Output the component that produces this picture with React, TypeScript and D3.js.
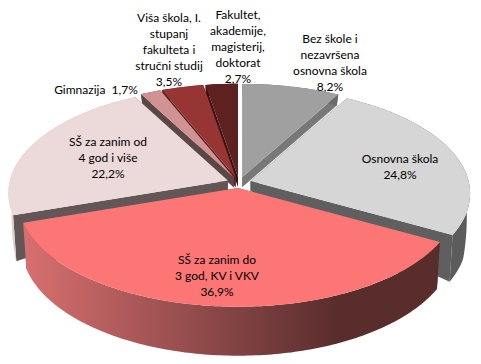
import React from "react";
import * as d3 from "d3";

const shares = [8.2, 24.8, 36.9, 22.2, 1.7, 3.5, 2.7];
const labelLines = [
  ["Bez škole i", "nezavršena", "osnovna škola", "8,2%"],
  ["Osnovna škola", "24,8%"],
  ["SŠ za zanim do", "3 god, KV i VKV", "36,9%"],
  ["SŠ za zanim od", "4 god i više", "22,2%"],
  ["Gimnazija  1,7%"],
  ["Viša škola, I.", "stupanj", "fakulteta i", "stručni studij", "3,5%"],
  ["Fakultet,", "akademije,", "magisterij,", "doktorat", "2,7%"],
];

// styles and layout, per slice
const topColors = ["#a0a0a0", "#d6d6d6", "#fd7676", "#ecd9d9", "#d09292", "#963534", "#5f2020"];
const cutColors = ["#787878", "#5f5f5f", "#5f5f5f", "#625656", "#5b4646", "#5c1f1f", "#3a1010"];
const wallStops = [
  ["#6a6a6a", "#6a6a6a"],
  ["#6c6c6c", "#5c5c5c"],
  ["#d87070", "#5a2d2d"],
  ["#ddd2d2", "#b8a8a8"],
  ["#5b4646", "#5b4646"],
  ["#5c1f1f", "#5c1f1f"],
  ["#3a1010", "#3a1010"],
];
const labelPos: [number, number][] = [
  [330, 38], [400, 158], [217, 259], [108, 141], [96, 89], [169, 17], [238, 14],
];
const drawOrder = [0, 6, 5, 4, 3, 1, 2];

const CX = 239, CY = 182.5, EX = 12, EY = 5.5;
const RX = 218, RY = 106, PERSP = 0.12;
const depth = d3.scaleLinear().domain([85, 182, 213, 305]).range([11, 10, 46, 49]).clamp(true);

const arcs = d3.pie<number>().sort(null).value((d) => d).startAngle(0).endAngle(2 * Math.PI)(shares);

export default function App() {
  const line = d3.line<[number, number]>();
  const slices = arcs.map((arc, i) => {
    const mid = (arc.startAngle + arc.endAngle) / 2;
    const ax = CX + EX * Math.sin(mid);
    const ay = CY - EY * Math.cos(mid);
    const proj = (a: number): [number, number] => {
      const s = 1 - PERSP * Math.cos(a);
      return [ax + RX * s * Math.sin(a), ay - RY * s * Math.cos(a)];
    };
    const low = (p: [number, number]): [number, number] => [
      ax + (p[0] - ax) * 0.985,
      p[1] + depth(p[1]),
    ];
    const n = Math.max(4, Math.ceil((arc.endAngle - arc.startAngle) * 60));
    const rim = d3.range(n + 1).map((k) =>
      proj(arc.startAngle + ((arc.endAngle - arc.startAngle) * k) / n)
    );
    const apex: [number, number] = [ax, ay];
    const apexLow = low(apex);
    const top = line([apex, ...rim])! + "Z";
    const wall = line([...rim, ...rim.slice().reverse().map(low)])! + "Z";
    const cutA = line([apex, rim[0], low(rim[0]), apexLow])! + "Z";
    const cutB = line([apex, rim[n], low(rim[n]), apexLow])! + "Z";
    const xs = rim.map((p) => p[0]);
    return { i, top, wall, cutA, cutB, x0: d3.min(xs)!, x1: d3.max(xs)! };
  });

  return (
    <svg
      width={481}
      height={364}
      style={{ position: "fixed", left: 0, top: 0, background: "#fff" }}
      fontFamily="Lato, Carlito, sans-serif"
      fontSize={12}
    >
      <defs>
        {slices.map((s) => (
          <linearGradient
            key={s.i}
            id={`wall${s.i}`}
            gradientUnits="userSpaceOnUse"
            x1={s.x0}
            x2={s.x1}
            y1={0}
            y2={0}
          >
            <stop offset="0%" stopColor={wallStops[s.i][0]} />
            <stop offset="75%" stopColor={wallStops[s.i][1]} />
            <stop offset="100%" stopColor={wallStops[s.i][1]} />
          </linearGradient>
        ))}
      </defs>
      {drawOrder.map((i) => {
        const s = slices[i];
        return (
          <g key={i}>
            <path d={s.cutA} fill={cutColors[i]} />
            <path d={s.cutB} fill={cutColors[i]} />
            <path d={s.wall} fill={`url(#wall${i})`} />
            <path d={s.top} fill={topColors[i]} />
          </g>
        );
      })}
      {labelLines.map((lines, i) => (
        <text key={i} textAnchor="middle" fill="#000">
          {lines.map((t, k) => (
            <tspan
              key={k}
              x={labelPos[i][0]}
              y={labelPos[i][1] + k * 16.2}
              dominantBaseline="central"
              style={{ whiteSpace: "pre" }}
            >
              {t}
            </tspan>
          ))}
        </text>
      ))}
    </svg>
  );
}
